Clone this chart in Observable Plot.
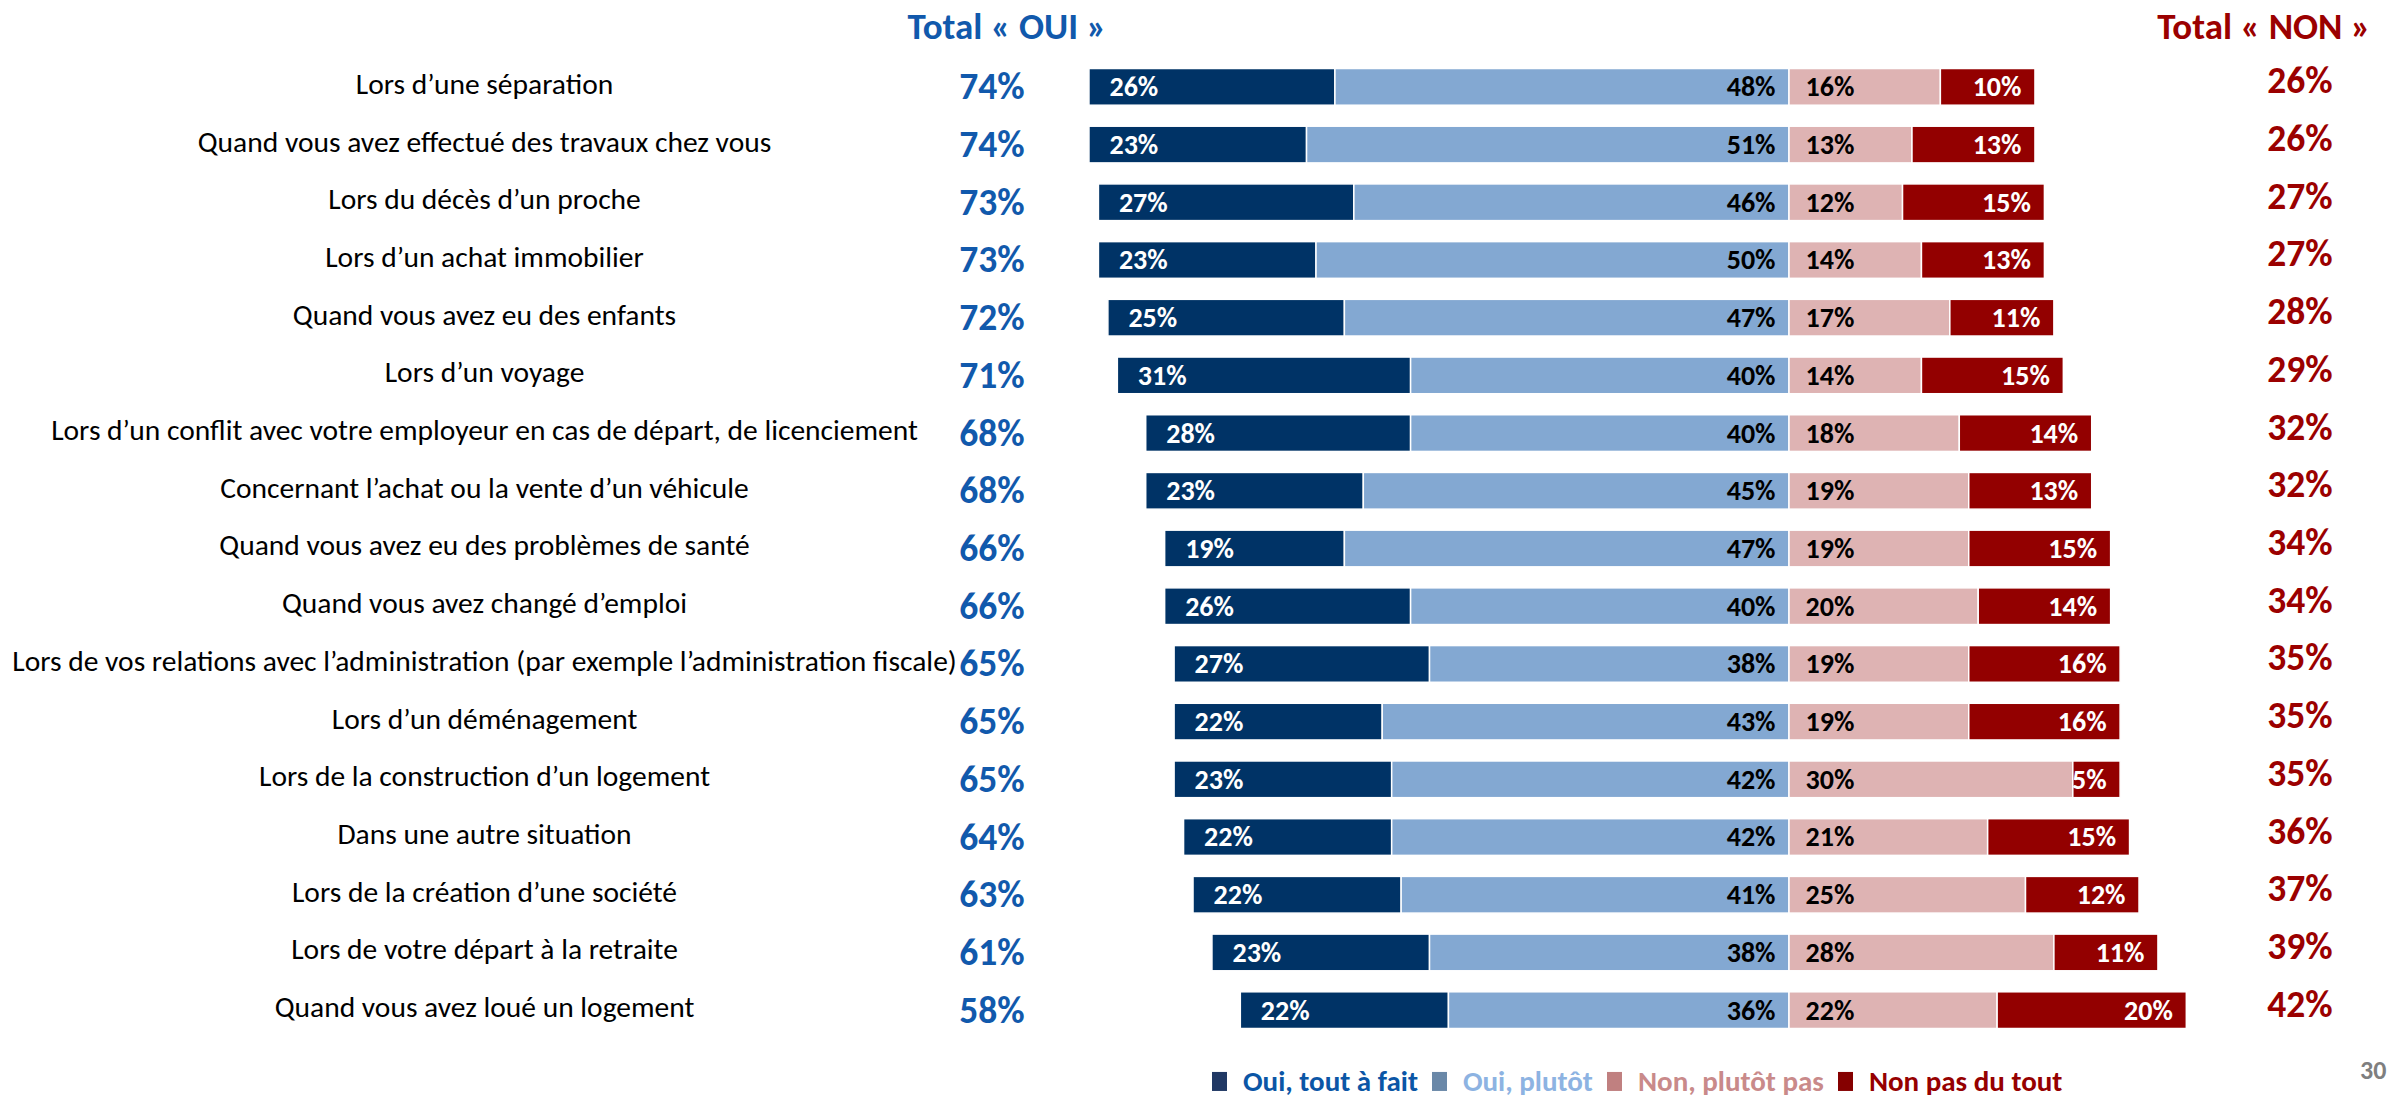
<!DOCTYPE html>
<html>
<head>
<meta charset="utf-8">
<script src="https://cdn.jsdelivr.net/npm/d3@7"></script>
<script src="https://cdn.jsdelivr.net/npm/@observablehq/plot@0.6"></script>
<style>
  html, body { margin: 0; padding: 0; background: #fff; }
  body { width: 2396px; height: 1095px; position: relative; overflow: hidden;
         font-family: Carlito, "Liberation Sans Narrow", "Open Sans", sans-serif; }
  #head { position: relative; height: 50px; }
  .hd { position: absolute; top: 26px; transform: translate(-50%, -50%); font-weight: bold; font-size: 37px; white-space: nowrap; }
  #legend { position: absolute; top: 1081px; left: 1212px; transform: translateY(-50%); display: flex; align-items: center; font-weight: bold; font-size: 29px; white-space: nowrap; line-height: 0.9; }
  #legend .sw { display: inline-block; width: 15px; height: 19px; margin-right: 16px; }
  #legend .it { display: flex; align-items: center; margin-right: 14px; }
  #pg { position: absolute; left: 2360px; top: 1054px; font-weight: bold; font-size: 26px; color: #7f7f7f; }
</style>
</head>
<body>
<div id="head"></div>
<div id="chart"></div>
<div id="legend"></div>
<div id="pg">30</div>
<script>
const categories = [
  "Lors d’une séparation",
  "Quand vous avez effectué des travaux chez vous",
  "Lors du décès d’un proche",
  "Lors d’un achat immobilier",
  "Quand vous avez eu des enfants",
  "Lors d’un voyage",
  "Lors d’un conflit avec votre employeur en cas de départ, de licenciement",
  "Concernant l’achat ou la vente d’un véhicule",
  "Quand vous avez eu des problèmes de santé",
  "Quand vous avez changé d’emploi",
  "Lors de vos relations avec l’administration (par exemple l’administration fiscale)",
  "Lors d’un déménagement",
  "Lors de la construction d’un logement",
  "Dans une autre situation",
  "Lors de la création d’une société",
  "Lors de votre départ à la retraite",
  "Quand vous avez loué un logement"
];
const ouiToutAFait = [26, 23, 27, 23, 25, 31, 28, 23, 19, 26, 27, 22, 23, 22, 22, 23, 22];
const ouiPlutot    = [48, 51, 46, 50, 47, 40, 40, 45, 47, 40, 38, 43, 42, 42, 41, 38, 36];
const nonPlutotPas = [16, 13, 12, 14, 17, 14, 18, 19, 19, 20, 19, 19, 30, 21, 25, 28, 22];
const nonPasDuTout = [10, 13, 15, 13, 11, 15, 14, 13, 15, 14, 16, 16,  5, 15, 12, 11, 20];
const totalOui = [74, 74, 73, 73, 72, 71, 68, 68, 66, 66, 65, 65, 65, 64, 63, 61, 58];
const totalNon = [26, 26, 27, 27, 28, 29, 32, 32, 34, 34, 35, 35, 35, 36, 37, 39, 42];
const seriesNames = ["Oui, tout à fait", "Oui, plutôt", "Non, plutôt pas", "Non pas du tout"];
const headers = ["Total « OUI »", "Total « NON »"];

const barColors = ["#003366", "#83A8D2", "#DEB3B3", "#930000"];
const legendSwatch = ["#203864", "#6A88A8", "#C08080", "#850000"];
const legendText = ["#0B56A6", "#8DB3E2", "#C98A8A", "#960000"];
const labelFill = ["white", "black", "black", "white"];
const ouiColor = "#1159AC";
const nonColor = "#9B0000";

// Build segments
const segs = [];
categories.forEach((cat, i) => {
  const a = ouiToutAFait[i], b = ouiPlutot[i], c = nonPlutotPas[i], d = nonPasDuTout[i];
  segs.push({cat, s: 0, x1: -(a + b), x2: -b, v: a});
  segs.push({cat, s: 1, x1: -b, x2: 0, v: b});
  segs.push({cat, s: 2, x1: 0, x2: c, v: c});
  segs.push({cat, s: 3, x1: c, x2: c + d, v: d});
});
const rows = categories.map((cat, i) => ({cat, oui: totalOui[i], non: totalNon[i]}));

const W = 2396;
const zeroPx = 1789, pxPerPct = 9.46;
const FONT = 'Carlito, "Liberation Sans Narrow", "Open Sans", sans-serif';

const seg = s => segs.filter(d => d.s === s);
const pct = d => d.v + "%";

const plot = Plot.plot({
  width: W,
  height: 999,
  marginLeft: 0, marginRight: 0, marginTop: 8, marginBottom: 10,
  style: {fontFamily: FONT, background: "white"},
  x: {domain: [-zeroPx / pxPerPct, (W - zeroPx) / pxPerPct], axis: null},
  y: {domain: categories, paddingInner: 0.364, paddingOuter: 0.182, round: false, axis: null},
  color: {domain: [0, 1, 2, 3], range: barColors, type: "ordinal"},
  marks: [
    Plot.barX(segs, {x1: "x1", x2: "x2", y: "cat", fill: d => d.s, stroke: "white", strokeWidth: 1.5}),
    Plot.text(seg(0), {x: "x1", y: "cat", text: pct, dx: 20, textAnchor: "start", fill: labelFill[0], fontWeight: "bold", fontSize: 28}),
    Plot.text(seg(1), {x: "x2", y: "cat", text: pct, dx: -14, textAnchor: "end", fill: labelFill[1], fontWeight: "bold", fontSize: 28}),
    Plot.text(seg(2), {x: "x1", y: "cat", text: pct, dx: 16, textAnchor: "start", fill: labelFill[2], fontWeight: "bold", fontSize: 28}),
    Plot.text(seg(3), {x: "x2", y: "cat", text: pct, dx: -14, textAnchor: "end", fill: labelFill[3], fontWeight: "bold", fontSize: 28}),
    Plot.text(rows, {y: "cat", text: "cat", frameAnchor: "left", dx: 484, dy: -3, textAnchor: "middle", fill: "black", fontSize: 29.5}),
    Plot.text(rows, {y: "cat", text: d => d.oui + "%", frameAnchor: "left", dx: 1024, textAnchor: "end", fill: ouiColor, fontWeight: "bold", fontSize: 37.5}),
    Plot.text(rows, {y: "cat", text: d => d.non + "%", frameAnchor: "right", dx: -64, dy: -6, textAnchor: "end", fill: nonColor, fontWeight: "bold", fontSize: 37.5})
  ]
});
document.getElementById("chart").appendChild(plot);

// Headers
const head = document.getElementById("head");
[[headers[0], 1007, ouiColor], [headers[1], 2264, nonColor]].forEach(([t, x, c]) => {
  const s = document.createElement("span");
  s.className = "hd"; s.textContent = t; s.style.left = x + "px"; s.style.color = c;
  head.appendChild(s);
});

// Legend
const leg = document.getElementById("legend");
seriesNames.forEach((n, i) => {
  const it = document.createElement("span"); it.className = "it";
  const sw = document.createElement("span"); sw.className = "sw"; sw.style.background = legendSwatch[i];
  const tx = document.createElement("span"); tx.textContent = n; tx.style.color = legendText[i];
  it.appendChild(sw); it.appendChild(tx); leg.appendChild(it);
});
</script>
</body>
</html>
